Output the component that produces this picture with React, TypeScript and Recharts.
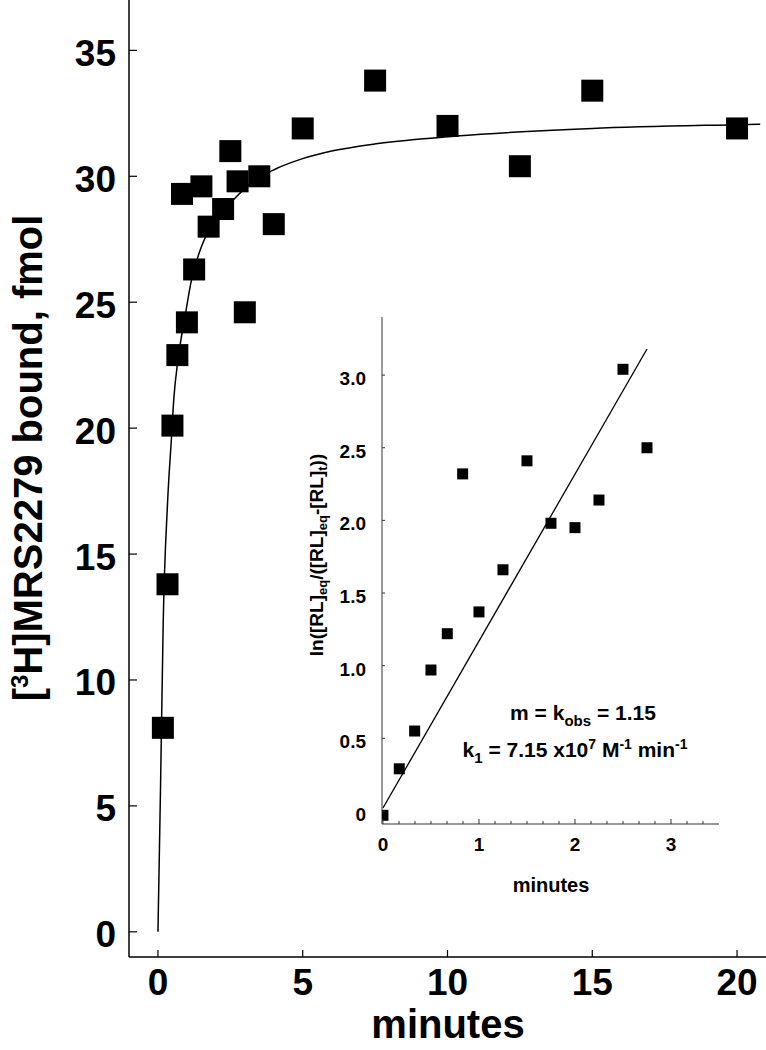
import React from "react";
import { ComposedChart, Scatter, Line, XAxis, YAxis } from "recharts";

// main panel: association time course
const mainT = [0.17, 0.33, 0.5, 0.67, 0.83, 1.0, 1.25, 1.5, 1.75, 2.25, 2.5, 2.75, 3.0, 3.5, 4.0, 5, 7.5, 10, 12.5, 15, 20];
const mainBound = [8.1, 13.8, 20.1, 22.9, 29.3, 24.2, 26.3, 29.6, 28.0, 28.7, 31.0, 29.8, 24.6, 30.0, 28.1, 31.9, 33.8, 32.0, 30.4, 33.4, 31.9];

// fitted curve
const fitT = [0, 0.09, 0.18, 0.33, 0.46, 0.55, 0.69, 0.93, 1.16, 1.5, 2.08, 2.59, 3.28, 4.08, 5, 6, 7.6, 10.3, 15, 20, 20.8];
const fitBound = [0, 5.8, 12.2, 17.0, 19.5, 21.2, 22.7, 24.4, 25.9, 27.2, 28.4, 29.05, 29.8, 30.3, 30.7, 31.0, 31.3, 31.6, 31.9, 32.05, 32.07];

const mainXTicks = [0, 5, 10, 15, 20];
const mainYTicks = [0, 5, 10, 15, 20, 25, 30, 35];

// inset: ln plot
const insetT = [0, 0.17, 0.33, 0.5, 0.67, 0.83, 1.0, 1.25, 1.5, 1.75, 2.0, 2.25, 2.5, 2.75];
const insetLn = [-0.03, 0.29, 0.55, 0.97, 1.22, 2.32, 1.37, 1.66, 2.41, 1.98, 1.95, 2.14, 3.04, 2.5];

const regT = [0, 2.75];
const regLn = [0.02, 3.18];

const insetXTicks = [0, 0.167, 0.333, 0.5, 0.667, 0.833, 1, 1.167, 1.333, 1.5, 1.667, 1.833, 2, 2.167, 2.333, 2.5, 2.667, 2.833, 3, 3.167, 3.333];
const insetYTicks = [0, 0.5, 1.0, 1.5, 2.0, 2.5, 3.0];

const mainPoints = mainT.map((t, i) => ({ t, y: mainBound[i] }));
const fitLine = fitT.map((t, i) => ({ t, y: fitBound[i] }));
const insetPoints = insetT.map((t, i) => ({ t, y: insetLn[i] }));
const regLine = regT.map((t, i) => ({ t, y: regLn[i] }));

const FONT = "'Liberation Sans', Arial, sans-serif";

const BigSquare = (props: any) => (
  <rect x={props.cx - 11} y={props.cy - 11} width={22} height={22} fill="#000" />
);
const SmallSquare = (props: any) => (
  <rect x={props.cx - 5.5} y={props.cy - 5.5} width={11} height={11} fill="#000" />
);

const MainXTick = ({ x, y, payload }: any) => (
  <g>
    <line x1={x} y1={y} x2={x} y2={y - 7} stroke="#000" strokeWidth={1.2} />
    <text x={x} y={y + 38} textAnchor="middle" fontSize={37} fontWeight="bold" fontFamily={FONT} fill="#000">
      {payload.value}
    </text>
  </g>
);

const MainYTick = ({ x, y, payload }: any) => (
  <g>
    <line x1={x} y1={y} x2={x + 8} y2={y} stroke="#000" strokeWidth={1.2} />
    <text x={x - 13} y={y + 15.5} textAnchor="end" fontSize={37} fontWeight="bold" fontFamily={FONT} fill="#000">
      {payload.value}
    </text>
  </g>
);

const InsetXTick = ({ x, y, payload }: any) => {
  const major = Math.abs(payload.value - Math.round(payload.value)) < 0.01;
  return (
    <g>
      <line x1={x} y1={y} x2={x} y2={y - (major ? 5 : 3)} stroke="#333" strokeWidth={1} />
      {major && (
        <text x={x} y={y + 27} textAnchor="middle" fontSize={19} fontWeight="bold" fontFamily={FONT} fill="#000">
          {payload.value}
        </text>
      )}
    </g>
  );
};

const InsetYTick = ({ x, y, payload }: any) => (
  <g>
    <line x1={x} y1={y} x2={x + 3} y2={y} stroke="#333" strokeWidth={1} />
    <text x={x - 16} y={y + 10} textAnchor="end" fontSize={19} fontWeight="bold" fontFamily={FONT} fill="#000">
      {payload.value === 0 ? "0" : payload.value.toFixed(1)}
    </text>
  </g>
);

export default function App() {
  return (
    <div style={{ position: "absolute", left: 0, top: 0, width: 766, height: 1050, background: "#fff" }}>
      <div style={{ position: "absolute", left: 0, top: 0 }}>
        <ComposedChart width={766} height={1050} margin={{ top: 0, right: 0, bottom: 0, left: 0 }}>
          <XAxis
            type="number"
            dataKey="t"
            domain={[-1, 21]}
            ticks={mainXTicks}
            allowDataOverflow
            height={93}
            axisLine={{ stroke: "#000", strokeWidth: 1.5 }}
            tickLine={false}
            tickSize={0}
            tickMargin={0}
            tick={<MainXTick />}
            interval={0}
          />
          <YAxis
            type="number"
            dataKey="y"
            domain={[-1, 37]}
            ticks={mainYTicks}
            allowDataOverflow
            width={129}
            axisLine={{ stroke: "#000", strokeWidth: 1.5 }}
            tickLine={false}
            tickSize={0}
            tickMargin={0}
            tick={<MainYTick />}
            interval={0}
          />
          <Line data={fitLine} dataKey="y" type="monotone" stroke="#000" strokeWidth={1.5} dot={false} isAnimationActive={false} />
          <Scatter data={mainPoints} dataKey="y" shape={BigSquare} isAnimationActive={false} />
        </ComposedChart>
      </div>

      <div style={{ position: "absolute", left: 0, top: 0 }}>
        <ComposedChart width={766} height={1050} margin={{ top: 317, right: 47, bottom: 0, left: 0 }}>
          <XAxis
            type="number"
            dataKey="t"
            domain={[-0.01, 3.5]}
            ticks={insetXTicks}
            allowDataOverflow
            height={226}
            axisLine={{ stroke: "#333", strokeWidth: 1.2 }}
            tickLine={false}
            tickSize={0}
            tickMargin={0}
            tick={<InsetXTick />}
            interval={0}
          />
          <YAxis
            type="number"
            dataKey="y"
            domain={[-0.09, 3.4]}
            ticks={insetYTicks}
            allowDataOverflow
            width={382}
            axisLine={{ stroke: "#555", strokeWidth: 1.2 }}
            tickLine={false}
            tickSize={0}
            tickMargin={0}
            tick={<InsetYTick />}
            interval={0}
          />
          <Line data={regLine} dataKey="y" type="linear" stroke="#000" strokeWidth={1.3} dot={false} isAnimationActive={false} />
          <Scatter data={insetPoints} dataKey="y" shape={SmallSquare} isAnimationActive={false} />
        </ComposedChart>
      </div>

      <svg width={766} height={1050} style={{ position: "absolute", left: 0, top: 0, pointerEvents: "none" }} fontFamily={FONT} fontWeight="bold" fill="#000">
        <text x={42} y={458} transform="rotate(-90 42 458)" textAnchor="middle" fontSize={40}>
          [<tspan dy={-14} fontSize={24}>3</tspan>
          <tspan dy={14}>H]MRS2279 bound, fmol</tspan>
        </text>
        <text x={448} y={1038} textAnchor="middle" fontSize={40}>minutes</text>

        <text x={323} y={555} transform="rotate(-90 323 555)" textAnchor="middle" fontSize={19}>
          ln([RL]<tspan dy={4} fontSize={13}>eq</tspan>
          <tspan dy={-4}>/([RL]</tspan>
          <tspan dy={4} fontSize={13}>eq</tspan>
          <tspan dy={-4}>-[RL]</tspan>
          <tspan dy={4} fontSize={13}>t</tspan>
          <tspan dy={-4}>))</tspan>
        </text>
        <text x={551} y={892} textAnchor="middle" fontSize={20}>minutes</text>

        <text x={583} y={720} textAnchor="middle" fontSize={21}>
          m = k<tspan dy={6} fontSize={15}>obs</tspan>
          <tspan dy={-6}> = 1.15</tspan>
        </text>
        <text x={575} y={757} textAnchor="middle" fontSize={21}>
          k<tspan dy={6} fontSize={15}>1</tspan>
          <tspan dy={-6}> = 7.15 x10</tspan>
          <tspan dy={-8} fontSize={14}>7</tspan>
          <tspan dy={8}> M</tspan>
          <tspan dy={-8} fontSize={14}>-1</tspan>
          <tspan dy={8}> min</tspan>
          <tspan dy={-8} fontSize={14}>-1</tspan>
        </text>
      </svg>
    </div>
  );
}
